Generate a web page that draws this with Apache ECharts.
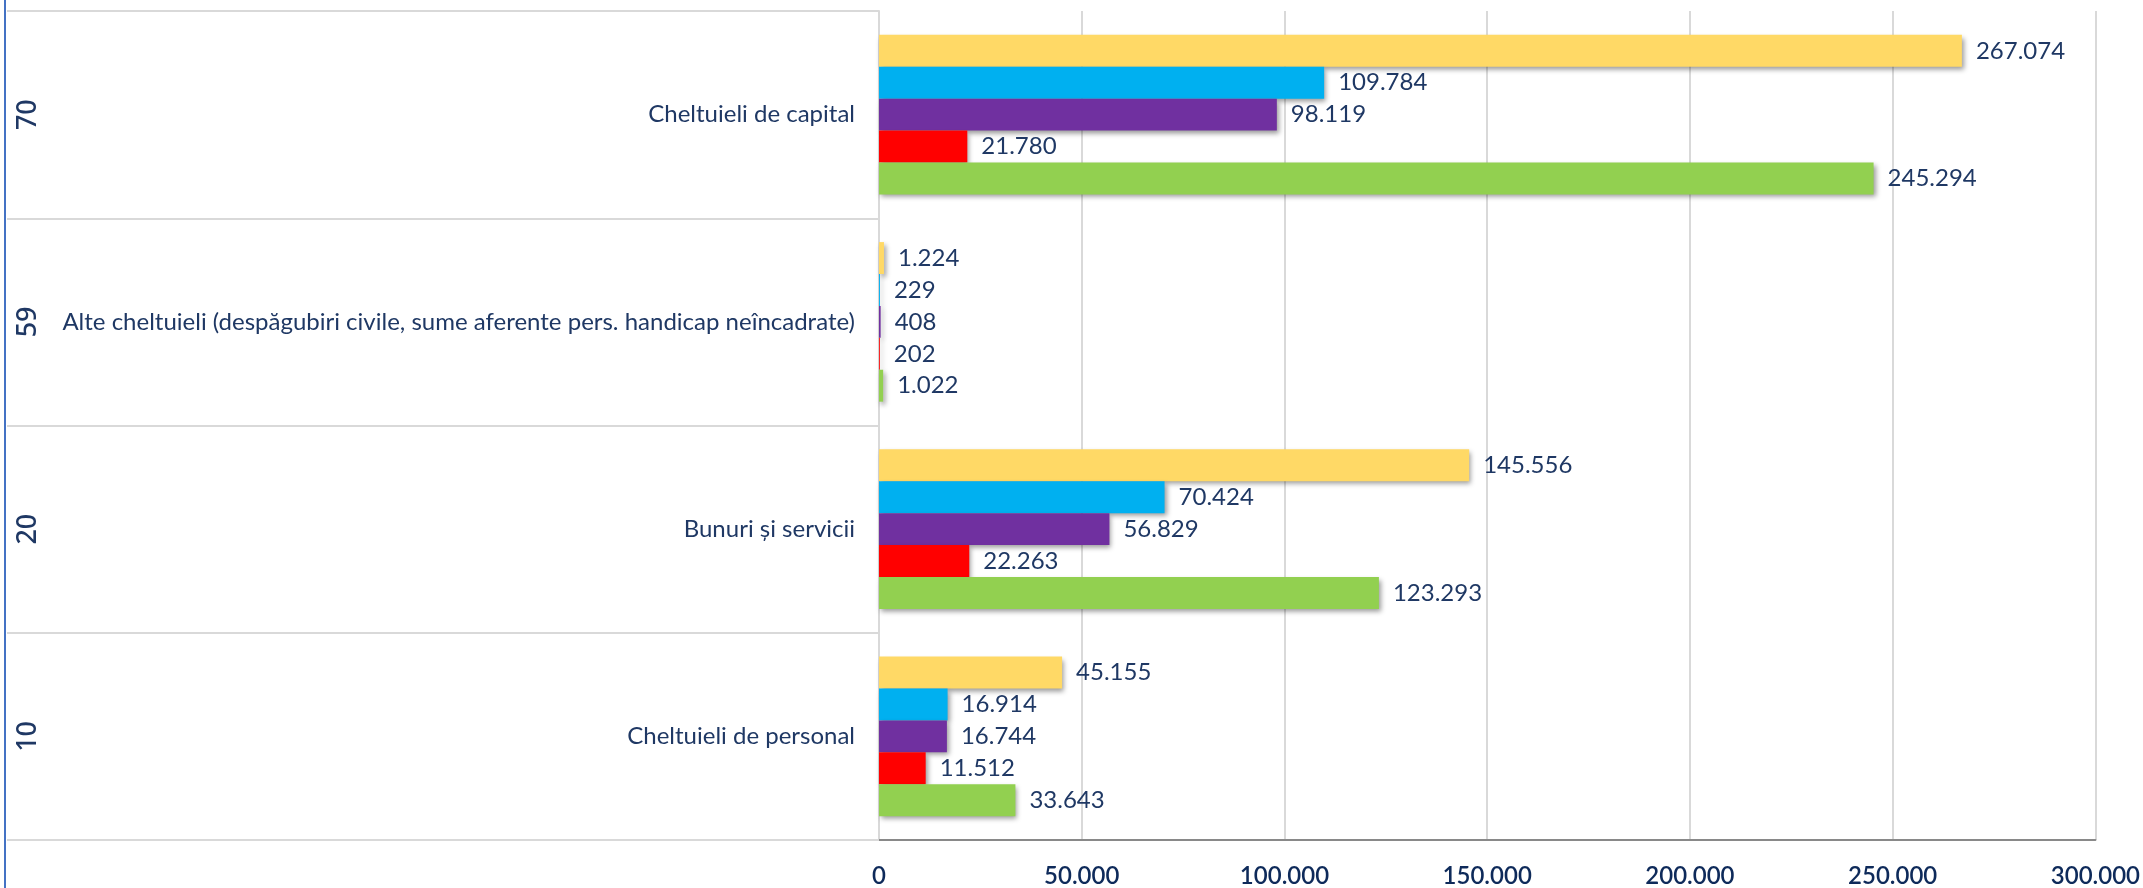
<!DOCTYPE html>
<html><head><meta charset="utf-8">
<script src="https://cdn.jsdelivr.net/npm/echarts@6/dist/echarts.min.js"></script>
<style>
html,body{margin:0;padding:0;background:#fff;}
#c{position:absolute;left:0;top:0;width:2143px;height:888px;}
#edge{position:absolute;left:4px;top:0;width:2px;height:888px;background:#4472C4;}
</style>
</head><body>
<div id="c"></div><div id="edge"></div>
<script>
// Data (bottom-to-top category order)
const codes = ['10', '20', '59', '70'];
const categories = [
  'Cheltuieli de personal',
  'Bunuri și servicii',
  'Alte cheltuieli (despăgubiri civile, sume aferente pers. handicap neîncadrate)',
  'Cheltuieli de capital'
];
const valuesYellow = [45155, 145556, 1224, 267074];
const valuesBlue   = [16914, 70424, 229, 109784];
const valuesPurple = [16744, 56829, 408, 98119];
const valuesRed    = [11512, 22263, 202, 21780];
const valuesGreen  = [33643, 123293, 1022, 245294];
const axisMin = 0, axisMax = 300000, axisStep = 50000;

const FONT = 'Lato';
const NAVY = '#1F3864';
const fmt = v => String(v).replace(/\B(?=(\d{3})+(?!\d))/g, '.');

const seriesDefs = [
  {name: 'Seria 1', data: valuesYellow, color: '#FFD966'},
  {name: 'Seria 2', data: valuesBlue,   color: '#00B0F0'},
  {name: 'Seria 3', data: valuesPurple, color: '#7030A0'},
  {name: 'Seria 4', data: valuesRed,    color: '#FF0000'},
  {name: 'Seria 5', data: valuesGreen,  color: '#92D050'}
];

const chart = echarts.init(document.getElementById('c'), null, {renderer: 'canvas'});
chart.setOption({
  animation: false,
  backgroundColor: '#ffffff',
  grid: {left: 879, right: 47, top: 11, bottom: 45, containLabel: false},
  xAxis: {
    type: 'value', min: axisMin, max: axisMax, interval: axisStep,
    axisLine: {show: true, lineStyle: {color: '#898989', width: 2}},
    axisTick: {show: false},
    splitLine: {show: true, lineStyle: {color: '#D9D9D9', width: 2}},
    axisLabel: {margin: 24, fontSize: 24, color: '#0E2A5A', fontFamily: FONT, fontWeight: 600,
      formatter: v => fmt(v)}
  },
  yAxis: [{
    type: 'category', data: categories, position: 'left',
    axisLine: {show: true, lineStyle: {color: '#D9D9D9', width: 2}},
    axisTick: {show: true, length: 872, lineStyle: {color: '#D9D9D9', width: 2}},
    splitLine: {show: false},
    axisLabel: {interval: 0, margin: 24, fontSize: 24, color: NAVY, fontFamily: FONT}
  }, {
    type: 'category', data: codes, position: 'left',
    axisLine: {show: false}, axisTick: {show: false}, splitLine: {show: false},
    axisLabel: {interval: 0, rotate: 90, margin: 837, fontSize: 27, color: NAVY, fontFamily: 'Noto Sans', fontWeight: 500}
  }],
  series: seriesDefs.map(s => ({
    type: 'bar', name: s.name, data: s.data,
    barGap: '0%', barCategoryGap: '23%',
    itemStyle: {color: s.color, shadowBlur: 5, shadowColor: 'rgba(0,0,0,0.4)', shadowOffsetX: 2, shadowOffsetY: 3},
    label: {show: true, position: 'right', distance: 14, fontSize: 24, color: NAVY, fontFamily: FONT,
      formatter: p => fmt(p.value)}
  }))
});
</script>
</body></html>
